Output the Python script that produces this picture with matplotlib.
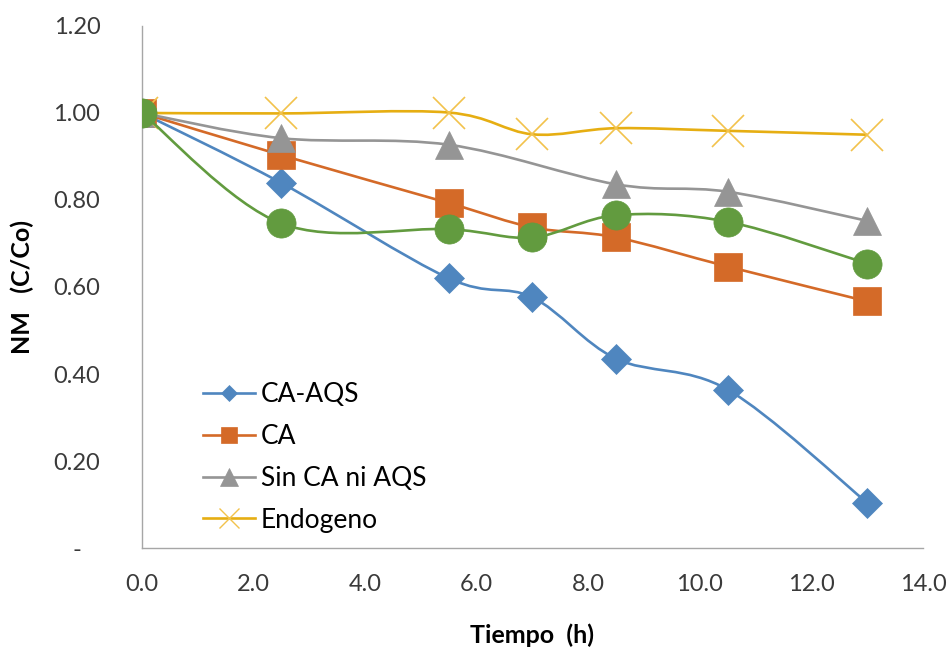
import numpy as np
import matplotlib
matplotlib.use('Agg')
import matplotlib.pyplot as plt
from matplotlib.path import Path
from matplotlib.patches import PathPatch
from matplotlib.ticker import FuncFormatter

plt.rcParams['font.family'] = ['Lato', 'DejaVu Sans']

# datos
tiempo = [0.0, 2.5, 5.5, 7.0, 8.5, 10.5, 13.0]
tiempo_sin = [0.0, 2.5, 5.5, 8.5, 10.5, 13.0]

ca_aqs = [1.00, 0.839, 0.620, 0.576, 0.435, 0.364, 0.104]
ca = [1.00, 0.903, 0.793, 0.737, 0.714, 0.647, 0.567]
sin_ca_aqs = [1.00, 0.942, 0.927, 0.836, 0.819, 0.752]
endogeno = [1.00, 0.999, 1.001, 0.951, 0.965, 0.959, 0.950]
verde = [1.00, 0.746, 0.733, 0.714, 0.765, 0.750, 0.654]

x_ticks = [0, 2, 4, 6, 8, 10, 12, 14]
y_ticks = [0.0, 0.2, 0.4, 0.6, 0.8, 1.0, 1.2]


def smooth_path(x, y):
    # curva suavizada tipo Excel (Bezier / Catmull-Rom)
    pts = np.column_stack([x, y]).astype(float)
    n = len(pts)
    verts = [pts[0]]
    codes = [Path.MOVETO]
    for i in range(n - 1):
        p0 = pts[max(i - 1, 0)]
        p1 = pts[i]
        p2 = pts[i + 1]
        p3 = pts[min(i + 2, n - 1)]
        verts += [p1 + (p2 - p0) / 6.0, p2 - (p3 - p1) / 6.0, p2]
        codes += [Path.CURVE4] * 3
    return Path(verts, codes)


series = [
    # label, x, y, line color, marker, size, marker color, legend size
    ('CA-AQS', tiempo, ca_aqs, '#4F86BF', 'D', 15.5, '#4F86BF', 8),
    ('CA', tiempo, ca, '#D46A28', 's', 20, '#D46A28', 12),
    ('Sin CA ni AQS', tiempo_sin, sin_ca_aqs, '#959595', '^', 20, '#959595', 13),
    ('Endogeno', tiempo, endogeno, '#E6AE12', 'x', 23, '#F2C24C', 15),
    (None, tiempo, verde, '#629B3F', 'o', 21, '#629B3F', 11),
]

fig = plt.figure(figsize=(9.48, 6.56), dpi=100)
ax = fig.add_axes([0.1498, 0.1646, 0.9736 - 0.1498, 0.9604 - 0.1646])

handles = []
for k, (lab, xs, ys, col, mk, ms, mcol, lms) in enumerate(series):
    z = 2 + k
    ax.add_patch(PathPatch(smooth_path(xs, ys), fill=False, edgecolor=col,
                           lw=1.9, zorder=z))
    if mk == 'x':
        ax.plot(xs, ys, ls='none', marker=mk, ms=ms, mec=mcol, mew=1.2, zorder=z + 0.5)
    else:
        ax.plot(xs, ys, ls='none', marker=mk, ms=ms, mfc=mcol, mec=mcol, mew=0.5,
                zorder=z + 0.5)
    if lab is not None:
        h, = ax.plot([], [], color=col, lw=1.9, marker=mk, ms=lms,
                     mfc=mcol, mec=mcol, mew=1.0 if mk == 'x' else 0.5, label=lab)
        handles.append(h)

ax.set_xlim(0, 14)
ax.set_ylim(0, 1.2)
ax.set_xticks(x_ticks)
ax.set_yticks(y_ticks)
ax.xaxis.set_major_formatter(FuncFormatter(lambda v, p: f'{v:.1f}'))
ax.yaxis.set_major_formatter(FuncFormatter(lambda v, p: '-   ' if abs(v) < 1e-9 else f'{v:.2f}'))
ax.tick_params(axis='both', length=0, labelsize=17, labelcolor='#3A3A3A')
ax.tick_params(axis='y', pad=30)
ax.tick_params(axis='x', pad=19)

for s in ['top', 'right']:
    ax.spines[s].set_visible(False)
for s in ['left', 'bottom']:
    ax.spines[s].set_color('#A6A6A6')
    ax.spines[s].set_linewidth(1.0)

ax.set_xlabel('Tiempo  (h)', fontsize=18, fontweight='bold')
ax.set_ylabel('NM   (C/Co)', fontsize=18, fontweight='bold')
ax.xaxis.set_label_coords(0.5, -0.145)
ax.yaxis.set_label_coords(-0.138, 0.5)

ax.legend(handles=handles, loc='upper left', bbox_to_anchor=(0.078, 0.318),
          frameon=False, fontsize=19, borderpad=0, borderaxespad=0,
          handlelength=1.97, handletextpad=0.23, labelspacing=0.64)

fig.savefig('out.png', dpi=100)
